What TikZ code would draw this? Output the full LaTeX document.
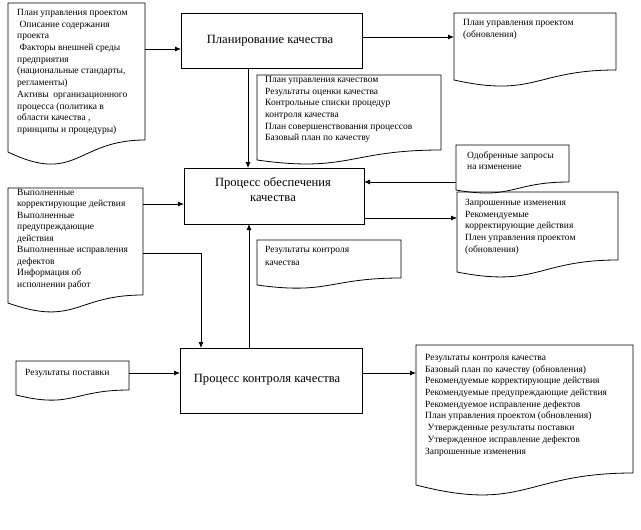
\documentclass[tikz,border=0pt]{standalone}
\usepackage{fontspec}
\setmainfont{Liberation Serif}
\usetikzlibrary{calc,arrows.meta,fit}
\newcommand{\docoutline}[3]{%
  \draw[docline] (#1.south east) -- (#1.north east) -- (#1.north west) --
    ($(#1.south west)+(0,#2)$) .. controls ($(#1.south)+(0,#3)$) and (#1.south) .. (#1.south east);}
\tikzset{
  docline/.style={line width=0.8pt},
  docbox/.style={inner sep=0pt, outer sep=0pt, draw=none},
  procbox/.style={draw, line width=0.8pt, inner sep=0pt, outer sep=0pt},
  doctext/.style={anchor=north west, inner sep=0pt, align=left, font=\fontsize{9.5}{11.7}\selectfont},
  titletext/.style={inner sep=0pt, align=center, font=\fontsize{12.6}{15}\selectfont},
  arr/.style={line width=0.8pt, -{Latex[length=6pt,width=5pt]}},
  conn/.style={line width=0.8pt}
}
\begin{document}
\begin{tikzpicture}[x=1pt,y=-1pt]
\useasboundingbox (0,0) rectangle (641,530);
% helper levels
\coordinate (y49) at (0,49);
\coordinate (y37) at (0,37);
\coordinate (x248) at (248,0);
\coordinate (y182) at (0,182);
\coordinate (y218) at (0,218);
\coordinate (y204) at (0,204);
\coordinate (y253) at (0,253);
\coordinate (x201) at (201,0);
\coordinate (x249) at (249,0);
\coordinate (y373) at (0,373);
% process boxes
\node[procbox, fit={(181,13) (362,68)}] (plan) {};
\node[titletext] (plant) at (270,41) {Планирование качества};
\node[procbox, fit={(184,168) (364,224)}] (obesp) {};
\node[titletext] (obespt) at (273,190) {Процесс обеспечения\\качества};
\node[procbox, fit={(180,348) (362,413)}] (control) {};
\node[titletext] (controlt) at (267,380) {Процесс контроля качества};
% documents
\node[docbox, fit={(8,3) (145,140)}] (d1) {};
\docoutline{d1}{12}{45}
\node[doctext] (d1t) at (17,9) {План управления проектом\\
\ Описание содержания\\проекта\\
\ Факторы внешней среды\\предприятия\\(национальные стандарты,\\регламенты)\\
Активы \ организационного\\процесса (политика в\\области качества ,\\принципы и процедуры)};

\node[docbox, fit={(454,13) (616,70)}] (trdoc) {};
\docoutline{trdoc}{10}{28}
\node[doctext] (trdoct) at (463,19) {План управления проектом\\(обновления)};

\node[docbox, fit={(257,75) (441,150)}] (d2) {};
\docoutline{d2}{10}{23}
\node[doctext] (d2t) at (265,76) {План управления качеством\\Результаты оценки качества\\Контрольные списки процедур\\контроля качества\\План совершенствования процессов\\Базовый план по качеству};

\node[docbox, fit={(456,145) (569,182)}] (d3) {};
\docoutline{d3}{8}{18}
\node[doctext] (d3t) at (467,151) {Одобренные запросы\\на изменение};

\node[docbox, fit={(457,192) (618,260)}] (d4) {};
\docoutline{d4}{12}{28}
\node[doctext] (d4t) at (465,199) {Запрошенные изменения\\Рекомендуемые\\корректирующие действия\\Плен управления проектом\\(обновления)};

\node[docbox, fit={(257,240) (401,278)}] (d5) {};
\docoutline{d5}{7}{17}
\node[doctext, font=\fontsize{9.5}{13}\selectfont] (d5t) at (265,246) {Результаты контроля\\качества};

\node[docbox, fit={(8,188) (143,295)}] (d6) {};
\docoutline{d6}{8}{32}
\node[doctext, font=\fontsize{9.5}{11.5}\selectfont] (d6t) at (17,189) {Выполненные\\корректирующие действия\\Выполненные\\предупреждающие\\действия\\Выполненные исправления\\дефектов\\Информация об\\исполнении работ};

\node[docbox, fit={(16,361) (129,390)}] (d7) {};
\docoutline{d7}{5}{19}
\node[doctext] (d7t) at (25,369) {Результаты поставки};

\node[docbox, fit={(416,345) (633,473)}] (d8) {};
\docoutline{d8}{12}{40}
\node[doctext] (d8t) at (425,354) {Результаты контроля качества\\Базовый план по качеству (обновления)\\Рекомендуемые корректирующие действия\\Рекомендуемые предупреждающие действия\\Рекомендуемое исправление дефектов\\План управления проектом (обновления)\\
\ Утвержденные результаты поставки\\
\ Утвержденное исправление дефектов\\Запрошенные изменения};
% connectors
\draw[arr] (d1.east |- y49) -- (plan.west |- y49);
\draw[arr] (plan.east |- y37) -- (trdoc.west |- y37);
\draw[arr] (plan.south -| x248) -- (obesp.north -| x248);
\draw[arr] (d3.west |- y182) -- (obesp.east |- y182);
\draw[arr] (obesp.east |- y218) -- (d4.west |- y218);
\draw[arr] (d6.east |- y204) -- (obesp.west |- y204);
\draw[arr] (d6.east |- y253) -| (control.north -| x201);
\draw[arr] (control.north -| x249) -- (obesp.south -| x249);
\draw[arr] (d7.east |- y373) -- (control.west |- y373);
\draw[arr] (control.east |- y373) -- (d8.west |- y373);
\end{tikzpicture}
\end{document}
